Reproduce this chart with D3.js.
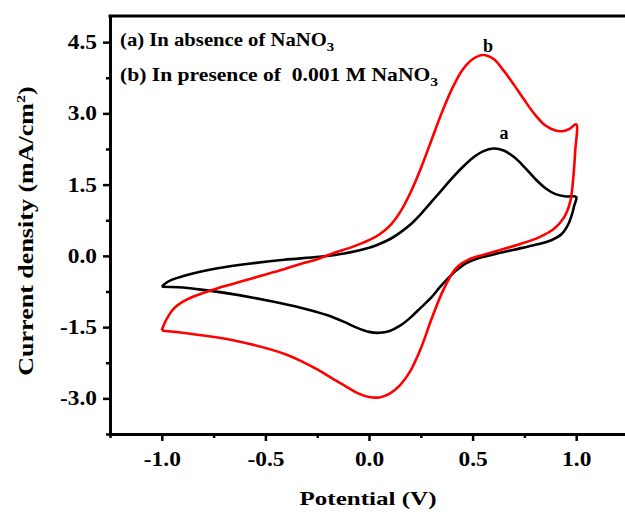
<!DOCTYPE html>
<html>
<head>
<meta charset="utf-8">
<script src="https://cdn.jsdelivr.net/npm/d3@7"></script>
<style>
    body { margin: 0; background: #fff; }
    svg { display: block; }
    text { font-family: "Liberation Serif", "Times New Roman", serif; font-weight: bold; fill: #000; }
</style>
</head>
<body>
<svg id="cv-plot" width="625" height="512"></svg>
<script>
// Cyclic voltammograms, [potential (V), current density (mA/cm2)]
// (a) without nitrate
var cycleA = [
    [-1.00, -0.65], [-0.98, -0.57], [-0.95, -0.50], [-0.90, -0.43], [-0.81, -0.33],
    [-0.73, -0.26], [-0.57, -0.16], [-0.41, -0.08], [-0.24, -0.02], [-0.12, 0.05],
    [0.00, 0.17], [0.05, 0.25], [0.10, 0.35], [0.15, 0.49], [0.20, 0.66],
    [0.25, 0.88], [0.30, 1.13], [0.35, 1.38], [0.40, 1.63], [0.45, 1.86],
    [0.50, 2.06], [0.55, 2.20], [0.60, 2.26], [0.65, 2.22], [0.70, 2.08],
    [0.75, 1.87], [0.80, 1.63], [0.85, 1.43], [0.90, 1.30], [0.95, 1.25],
    [1.00, 1.24],
    [0.99, 1.05], [0.98, 0.88], [0.96, 0.65], [0.93, 0.46], [0.88, 0.33],
    [0.80, 0.23], [0.70, 0.13], [0.60, 0.03], [0.52, -0.06], [0.47, -0.15],
    [0.42, -0.31], [0.38, -0.48], [0.34, -0.67], [0.30, -0.88], [0.25, -1.09],
    [0.20, -1.30], [0.15, -1.47], [0.10, -1.58], [0.05, -1.62], [0.00, -1.60],
    [-0.06, -1.51], [-0.12, -1.39], [-0.20, -1.25], [-0.33, -1.09], [-0.49, -0.94],
    [-0.65, -0.81], [-0.81, -0.71], [-0.92, -0.66], [-1.00, -0.65]
];
// (b) with 0.001 M nitrate
var cycleB = [
    [-1.00, -1.57], [-0.99, -1.45], [-0.97, -1.28], [-0.94, -1.10], [-0.90, -0.97],
    [-0.85, -0.86], [-0.80, -0.78], [-0.73, -0.68], [-0.65, -0.58], [-0.57, -0.48],
    [-0.49, -0.38], [-0.41, -0.28], [-0.33, -0.17], [-0.25, -0.07], [-0.17, 0.06],
    [-0.08, 0.19], [0.00, 0.33], [0.05, 0.45], [0.10, 0.63], [0.15, 0.92],
    [0.20, 1.33], [0.25, 1.84], [0.30, 2.42], [0.35, 3.00], [0.40, 3.51],
    [0.45, 3.91], [0.50, 4.14], [0.55, 4.23], [0.60, 4.15], [0.65, 3.90],
    [0.70, 3.60], [0.75, 3.28], [0.80, 2.98], [0.85, 2.75], [0.90, 2.64],
    [0.94, 2.63], [0.97, 2.68], [1.00, 2.77],
    [0.995, 2.20], [0.985, 1.60], [0.97, 1.12], [0.94, 0.80], [0.89, 0.56],
    [0.82, 0.39], [0.73, 0.25], [0.63, 0.12], [0.55, 0.02], [0.48, -0.08],
    [0.43, -0.22], [0.40, -0.38], [0.35, -0.80], [0.30, -1.35], [0.25, -1.95],
    [0.20, -2.42], [0.15, -2.72], [0.10, -2.90], [0.05, -2.98], [0.00, -2.97],
    [-0.05, -2.90], [-0.10, -2.78], [-0.17, -2.60], [-0.25, -2.39], [-0.33, -2.21],
    [-0.41, -2.06], [-0.57, -1.86], [-0.73, -1.72], [-0.90, -1.62], [-1.00, -1.57]
];

var xMajorTicks = [-1.0, -0.5, 0.0, 0.5, 1.0];
var xMinorTicks = [-1.25, -0.75, -0.25, 0.25, 0.75];
var yMajorTicks = [-3.0, -1.5, 0.0, 1.5, 3.0, 4.5];
var yMinorTicks = [-3.75, -2.25, -0.75, 0.75, 2.25, 3.75];

var svg = d3.select("svg#cv-plot");

var xScale = d3.scaleLinear()
    .domain([-1.25, 1.25])
    .range([110, 628]);

var yScale = d3.scaleLinear()
    .domain([-3.75, 5.05])
    .range([434, 16]);

// stretch tick labels a bit, the original font is wider
var widenLabels = function (sel) {
    sel.selectAll("text")
        .style("font-size", "20px")
        .each(function () {
            var w = this.getComputedTextLength();
            d3.select(this)
                .attr("textLength", w * 1.17)
                .attr("lengthAdjust", "spacingAndGlyphs");
        });
};

var fmt = function (d) { return d.toFixed(1); };

// Minor ticks first, major on top
svg.append("g")
    .attr("transform", "translate(0,434)")
    .call(d3.axisBottom(xScale).tickValues(xMinorTicks).tickSize(4).tickFormat(""))
    .call(g => g.select(".domain").remove())
    .selectAll("line").attr("stroke-width", 2.5);

svg.append("g")
    .attr("transform", "translate(110,0)")
    .call(d3.axisLeft(yScale).tickValues(yMinorTicks).tickSize(4).tickFormat(""))
    .call(g => g.select(".domain").remove())
    .selectAll("line").attr("stroke-width", 2.5);

var xAxis = svg.append("g")
    .attr("transform", "translate(0,434)")
    .call(d3.axisBottom(xScale).tickValues(xMajorTicks).tickFormat(fmt)
        .tickSize(7).tickSizeOuter(0).tickPadding(11));
xAxis.select(".domain").attr("stroke-width", 3);
xAxis.selectAll(".tick line").attr("stroke-width", 2.5);
xAxis.call(widenLabels);

var yAxis = svg.append("g")
    .attr("transform", "translate(110,0)")
    .call(d3.axisLeft(yScale).tickValues(yMajorTicks).tickFormat(fmt)
        .tickSize(7).tickSizeOuter(0).tickPadding(6));
yAxis.select(".domain").attr("stroke-width", 3);
yAxis.selectAll(".tick line").attr("stroke-width", 2.5);
yAxis.call(widenLabels);

// top frame line
svg.append("line")
    .attr("x1", 108.5).attr("x2", 628)
    .attr("y1", 16).attr("y2", 16)
    .attr("stroke", "#000")
    .attr("stroke-width", 3);

// Curves
var line = d3.line()
    .x(d => xScale(d[0]))
    .y(d => yScale(d[1]))
    .curve(d3.curveCatmullRom.alpha(0.5));

svg.append("path")
    .datum(cycleA)
    .attr("d", line)
    .attr("fill", "none")
    .attr("stroke", "#000")
    .attr("stroke-width", 2.6)
    .attr("stroke-linejoin", "round");

svg.append("path")
    .datum(cycleB)
    .attr("d", line)
    .attr("fill", "none")
    .attr("stroke", "#ff0000")
    .attr("stroke-width", 2.6)
    .attr("stroke-linejoin", "round");

// Curve labels
svg.append("text")
    .attr("x", 488).attr("y", 52)
    .attr("text-anchor", "middle")
    .style("font-size", "18px")
    .text("b");
svg.append("text")
    .attr("x", 504).attr("y", 139)
    .attr("text-anchor", "middle")
    .style("font-size", "18px")
    .text("a");

// Legend text
var legendA = svg.append("g")
    .attr("transform", "translate(120,46) scale(1.15,1)")
    .append("text")
    .style("font-size", "18px")
    .style("white-space", "pre");
legendA.append("tspan").text("(a) In absence of NaNO");
legendA.append("tspan").attr("dy", 5).style("font-size", "13px").text("3");

var legendB = svg.append("g")
    .attr("transform", "translate(120,81) scale(1.2,1)")
    .append("text")
    .style("font-size", "18px")
    .style("white-space", "pre");
legendB.append("tspan").text("(b) In presence of  0.001 M NaNO");
legendB.append("tspan").attr("dy", 5).style("font-size", "13px").text("3");

// Axis titles
svg.append("g")
    .attr("transform", "translate(368,505) scale(1.32,1)")
    .append("text")
    .attr("text-anchor", "middle")
    .style("font-size", "19px")
    .text("Potential (V)");

var yTitle = svg.append("g")
    .attr("transform", "translate(33,231) rotate(-90) scale(1.24,1)")
    .append("text")
    .attr("text-anchor", "middle")
    .style("font-size", "21px");
yTitle.append("tspan").text("Current density (mA/cm");
yTitle.append("tspan").attr("dy", -8).style("font-size", "13px").text("2");
yTitle.append("tspan").attr("dy", 8).text(")");
</script>
</body>
</html>
